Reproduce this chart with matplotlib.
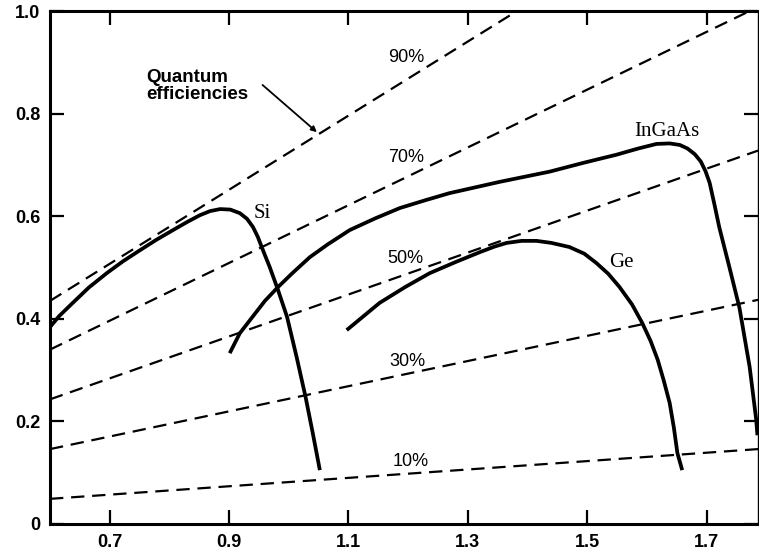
import matplotlib
matplotlib.use("Agg")
import matplotlib.pyplot as plt

# Responsivity (A/W) vs wavelength (um) for three photodiode materials
si_wl = [0.600, 0.615, 0.638, 0.665, 0.695, 0.722, 0.751, 0.778, 0.806, 0.830,
         0.851, 0.868, 0.885, 0.902, 0.918, 0.930, 0.940, 0.948, 0.958, 0.968,
         0.982, 0.997, 1.013, 1.028, 1.040, 1.052]
si_r = [0.384, 0.405, 0.431, 0.461, 0.489, 0.512, 0.534, 0.554, 0.573, 0.589,
        0.602, 0.610, 0.614, 0.613, 0.606, 0.595, 0.579, 0.560, 0.530, 0.501,
        0.456, 0.404, 0.326, 0.248, 0.178, 0.105]

ingaas_wl = [0.901, 0.918, 0.940, 0.960, 0.982, 1.005, 1.035, 1.065, 1.102, 1.145,
             1.186, 1.228, 1.269, 1.311, 1.353, 1.395, 1.437, 1.493, 1.549, 1.585,
             1.616, 1.638, 1.655, 1.668, 1.680, 1.690, 1.698, 1.705, 1.713, 1.721,
             1.738, 1.755, 1.772, 1.783, 1.785]
ingaas_r = [0.333, 0.372, 0.405, 0.435, 0.462, 0.488, 0.520, 0.545, 0.573, 0.596,
            0.616, 0.631, 0.645, 0.656, 0.667, 0.677, 0.687, 0.704, 0.720, 0.732,
            0.741, 0.742, 0.739, 0.732, 0.721, 0.707, 0.688, 0.665, 0.623, 0.579,
            0.501, 0.421, 0.306, 0.203, 0.173]

ge_wl = [1.097, 1.152, 1.195, 1.236, 1.280, 1.320, 1.345, 1.365, 1.390, 1.415,
         1.440, 1.470, 1.495, 1.515, 1.535, 1.554, 1.575, 1.592, 1.606, 1.618,
         1.628, 1.638, 1.645, 1.651, 1.659]
ge_r = [0.378, 0.431, 0.462, 0.489, 0.511, 0.530, 0.541, 0.548, 0.552, 0.552,
        0.548, 0.540, 0.527, 0.509, 0.488, 0.462, 0.428, 0.392, 0.357, 0.320,
        0.280, 0.236, 0.188, 0.138, 0.105]

# constant quantum efficiency lines (straight, start and end points)
qe_labels = ["90%", "70%", "50%", "30%", "10%"]
qe_wl = [[0.6, 1.382], [0.6, 1.786], [0.6, 1.786], [0.6, 1.786], [0.6, 1.786]]
qe_r = [[0.435, 1.0], [0.340, 1.008], [0.243, 0.728], [0.146, 0.437], [0.049, 0.146]]
qe_label_pos = [(1.196, 0.910), (1.196, 0.715), (1.196, 0.518), (1.199, 0.316), (1.204, 0.121)]

x_ticks = [0.7, 0.9, 1.1, 1.3, 1.5, 1.7]
y_ticks = [0, 0.2, 0.4, 0.6, 0.8, 1.0]
y_tick_labels = ["0", "0.2", "0.4", "0.6", "0.8", "1.0"]

fig = plt.figure(figsize=(7.59, 5.55), dpi=100)
ax = fig.add_axes([0.0659, 0.0559, 0.9328, 0.9241])

for wl, r in zip(qe_wl, qe_r):
    ax.plot(wl, r, color="black", lw=1.6, dashes=(6, 3.5))
for lab, (x, y) in zip(qe_labels, qe_label_pos):
    ax.text(x, y, lab, fontsize=13, family="Liberation Sans", ha="center", va="center")

for wl, r in [(si_wl, si_r), (ingaas_wl, ingaas_r), (ge_wl, ge_r)]:
    ax.plot(wl, r, color="black", lw=2.7, solid_capstyle="butt", solid_joinstyle="round")

ax.text(0.956, 0.606, "Si", fontsize=15, family="Liberation Serif", ha="center", va="center")
ax.text(1.557, 0.509, "Ge", fontsize=15, family="Liberation Serif", ha="center", va="center")
ax.text(1.633, 0.766, "InGaAs", fontsize=15, family="Liberation Serif", ha="center", va="center")

ax.text(0.762, 0.854, "Quantum\nefficiencies", fontsize=13.5, fontweight="bold",
        family="Liberation Sans", ha="left", va="center", linespacing=1.05)
ax.annotate("", xy=(1.047, 0.764), xytext=(0.956, 0.856),
            arrowprops=dict(arrowstyle="-|>", color="black", lw=1.3,
                            mutation_scale=8, shrinkA=0, shrinkB=0))

ax.set_xlim(0.6, 1.786)
ax.set_ylim(0, 1.0)
ax.set_xticks(x_ticks)
ax.set_xticklabels([f"{t:.1f}" for t in x_ticks])
ax.set_yticks(y_ticks)
ax.set_yticklabels(y_tick_labels)
ax.tick_params(direction="in", length=10, width=1.6, top=True, right=True, pad=7)
for lab in ax.get_xticklabels() + ax.get_yticklabels():
    lab.set_fontfamily("Liberation Sans")
    lab.set_fontweight("bold")
    lab.set_fontsize(13)
for side in ["left", "bottom", "top"]:
    ax.spines[side].set_linewidth(2.2)
ax.spines["right"].set_linewidth(1.0)

fig.savefig("out.png", dpi=100)
